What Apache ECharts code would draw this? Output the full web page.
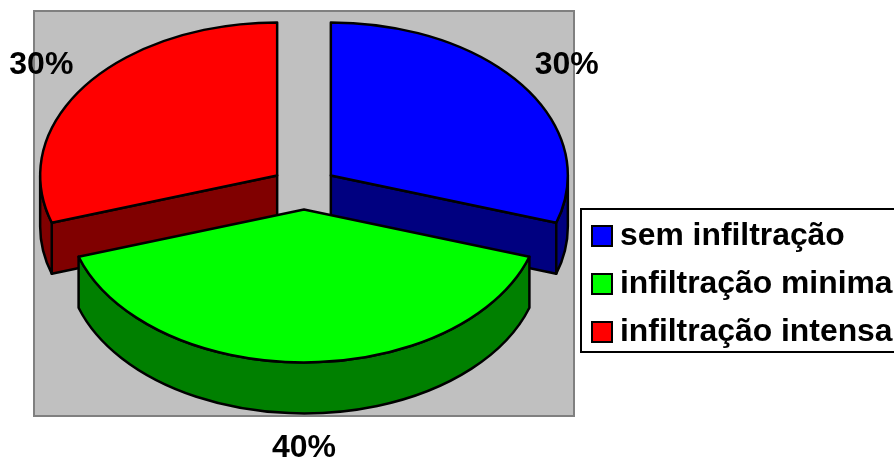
<!DOCTYPE html>
<html>
<head>
<meta charset="utf-8">
<style>html,body{margin:0;padding:0;background:#fff}#chart{width:894px;height:459px}</style>
<script src="https://cdn.jsdelivr.net/npm/echarts@6/dist/echarts.min.js"></script>
</head>
<body>
<div id="chart"></div>
<script>
const categories = ['sem infiltração', 'infiltração minima', 'infiltração intensa'];
const percentages = [30, 40, 30];
const topColors = ['#0000FF', '#00FF00', '#FF0000'];
const wallColors = ['#000080', '#008000', '#800000'];

// Tilted-pie geometry in pixels
const pie = { cx: 304, cy: 188, rx: 237, ry: 153, depth: 51, explode: 0.14, labelRadius: 1.23 };
const total = percentages.reduce((a, b) => a + b, 0);
const edge = { stroke: '#000', lineWidth: 2.5, lineJoin: 'round' };

// Angle runs clockwise from twelve o'clock, in degrees
const pointAt = (c, deg, f = 1) => {
  const t = deg * Math.PI / 180;
  return [c[0] + pie.rx * f * Math.sin(t), c[1] - pie.ry * f * Math.cos(t)];
};
const arcTo = (p, sweep) => `A${pie.rx} ${pie.ry} 0 0 ${sweep} ${p[0]} ${p[1]}`;
const shifted = (p) => [p[0], p[1] + pie.depth];

function sliceTop(c, a0, a1) {
  const p0 = pointAt(c, a0), p1 = pointAt(c, a1);
  const big = a1 - a0 > 180 ? 1 : 0;
  return `M${c[0]} ${c[1]}L${p0[0]} ${p0[1]}A${pie.rx} ${pie.ry} 0 ${big} 1 ${p1[0]} ${p1[1]}Z`;
}

function radialFace(c, a) {
  const p = pointAt(c, a), c2 = shifted(c), p2 = shifted(p);
  return `M${c[0]} ${c[1]}L${p[0]} ${p[1]}L${p2[0]} ${p2[1]}L${c2[0]} ${c2[1]}Z`;
}

// Rim between two angles, limited to the half of the ellipse facing the viewer
function rim(c, a0, a1) {
  const from = Math.max(a0, 90), to = Math.min(a1, 270);
  if (to <= from) return null;
  const p0 = pointAt(c, from), p1 = pointAt(c, to);
  const q0 = shifted(p0), q1 = shifted(p1);
  return `M${p0[0]} ${p0[1]}${arcTo(p1, 1)}L${q1[0]} ${q1[1]}${arcTo(q0, 0)}Z`;
}

function renderSlice(index, api) {
  const value = api.value(0);
  const before = percentages.slice(0, index).reduce((a, b) => a + b, 0);
  const a0 = before / total * 360;
  const a1 = a0 + value / total * 360;
  const mid = (a0 + a1) / 2;
  const c = [
    pie.cx + pie.explode * pie.rx * Math.sin(mid * Math.PI / 180),
    pie.cy - pie.explode * pie.ry * Math.cos(mid * Math.PI / 180)
  ];
  const path = (d, fill) => ({ type: 'path', shape: { pathData: d }, style: { fill, ...edge } });
  const children = [];
  // A cut face shows only when its outward normal points down the screen
  if (Math.cos((a0 - 90) * Math.PI / 180) < -1e-6) children.push(path(radialFace(c, a0), wallColors[index]));
  if (Math.cos((a1 + 90) * Math.PI / 180) < -1e-6) children.push(path(radialFace(c, a1), wallColors[index]));
  const wallPath = rim(c, a0, a1);
  if (wallPath) children.push(path(wallPath, wallColors[index]));
  children.push(path(sliceTop(c, a0, a1), topColors[index]));
  const lp = pointAt(c, mid, pie.labelRadius);
  const lift = Math.cos(mid * Math.PI / 180) < 0 ? pie.depth : 0;
  children.push({
    type: 'text',
    z2: 100,
    style: {
      x: lp[0], y: lp[1] + lift,
      text: Math.round(value / total * 100) + '%',
      fill: '#000',
      font: 'bold 32px "Liberation Sans", Arial, sans-serif',
      align: 'center', verticalAlign: 'middle'
    }
  });
  return { type: 'group', children };
}

const chart = echarts.init(document.getElementById('chart'), null, { renderer: 'canvas' });
chart.setOption({
  animation: false,
  backgroundColor: '#fff',
  grid: {
    show: true, left: 34, top: 11, width: 540, height: 405,
    backgroundColor: '#C0C0C0', borderColor: '#808080', borderWidth: 2
  },
  xAxis: { show: false, min: 0, max: 1 },
  yAxis: { show: false, min: 0, max: 1 },
  legend: {
    orient: 'vertical',
    left: 581, top: 209,
    padding: [11, 8, 4, 10],
    itemWidth: 20, itemHeight: 20, itemGap: 16,
    backgroundColor: '#fff',
    borderColor: '#000', borderWidth: 2,
    icon: 'rect',
    data: categories,
    selectedMode: false,
    textStyle: {
      color: '#000', fontSize: 31.85, fontWeight: 'bold', padding: [0, 0, 0, 3],
      fontFamily: '"Liberation Sans", Arial, sans-serif'
    },
    itemStyle: { borderColor: '#000', borderWidth: 2 }
  },
  // Green is drawn last so it overlaps the walls of its neighbours
  series: categories.map((name, i) => ({
    type: 'custom',
    name,
    coordinateSystem: 'none',
    z: i === 1 ? 4 : 3,
    itemStyle: { color: topColors[i], borderColor: '#000', borderWidth: 2 },
    renderItem: (params, api) => renderSlice(i, api),
    data: [[percentages[i]]]
  }))
});
</script>
</body>
</html>
